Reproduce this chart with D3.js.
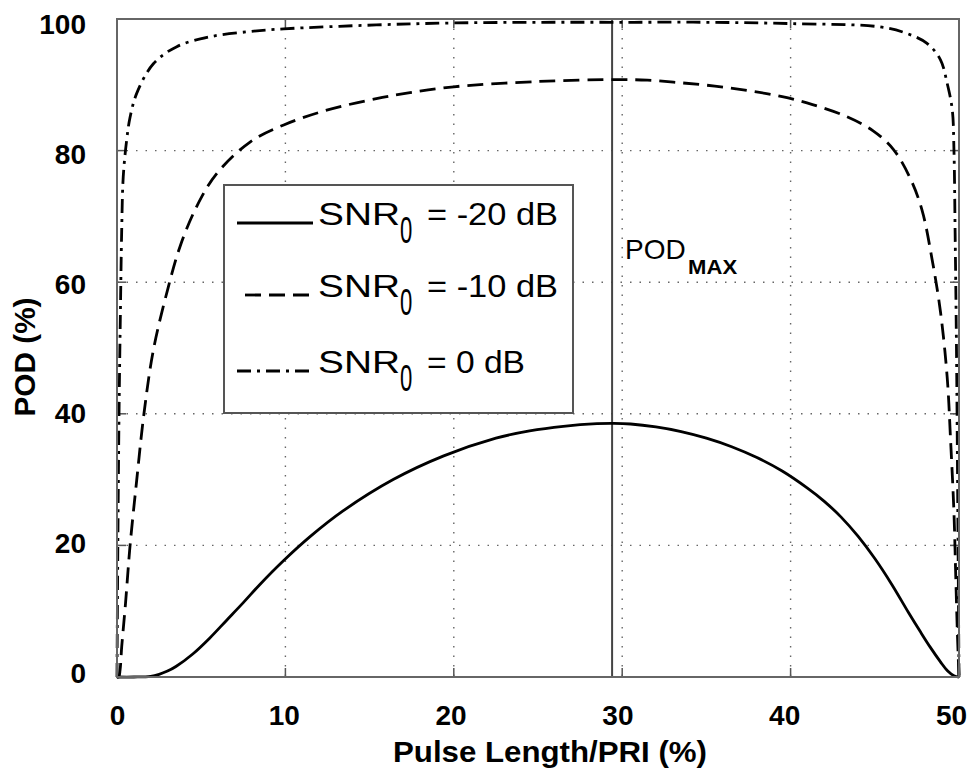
<!DOCTYPE html>
<html>
<head>
<meta charset="utf-8">
<script src="https://cdn.jsdelivr.net/npm/d3@7"></script>
<style>
  body { margin: 0; background: white; }
  text { font-family: "Liberation Sans", Arial, sans-serif; fill: black; }
  .gridline { stroke: #666; stroke-width: 1.4; stroke-dasharray: 1.5,8; }
  .tick-in { stroke: #555; stroke-width: 1.5; }
  .kreska { fill: none; stroke: black; stroke-width: 2.8; }
</style>
</head>
<body>
<div id="wykres_pod"></div>
<script>
// tick values
var xTicks = [0, 10, 20, 30, 40, 50];
var yTicks = [0, 20, 40, 60, 80, 100];

// legend labels (SNR0 = ...)
var seriesDb = ["-20 dB", "-10 dB", "0 dB"];

// SNR0 = -20 dB
var snr20_x = [0, 1, 2, 2.5, 3, 3.5, 4.5, 5.5, 6.5, 7.5, 8.5, 9.9, 11.5, 13.4, 16.4, 19.4, 22.5, 24.5, 26.5, 28.5, 29.5, 30.5, 32, 33.5, 35, 36.5, 38, 39.5, 41, 42, 43, 44, 45, 46, 47, 47.7, 48.3, 48.9, 49.3, 49.7, 50];
var snr20_y = [0, 0, 0.1, 0.4, 0.9, 1.6, 3.5, 5.9, 8.6, 11.3, 14.1, 17.7, 21.4, 25.2, 30.0, 33.6, 36.3, 37.4, 38.1, 38.5, 38.55, 38.45, 38.0, 37.3, 36.3, 35.0, 33.35, 31.3, 28.7, 26.7, 24.3, 21.4, 18.0, 14.1, 9.8, 6.9, 4.5, 2.3, 1.0, 0.2, 0];

// SNR0 = -10 dB
var snr10_x = [0, 0.1, 0.18, 0.28, 0.5, 0.77, 1.17, 1.6, 2.16, 3.05, 3.74, 4.73, 5.92, 7.9, 9.9, 12.4, 15.4, 17.4, 20, 25, 29.5, 31.5, 33.5, 35.5, 37.5, 39.5, 41.3, 43.3, 44.9, 46.1, 47.1, 47.8, 48.4, 48.9, 49.3, 49.5, 49.7, 49.8, 49.9, 50];
var snr10_y = [0, 0, 1, 4.6, 11, 19.8, 29.9, 40, 49.7, 59.3, 65.4, 71.5, 76.5, 81.3, 83.9, 86.1, 87.9, 88.8, 89.7, 90.5, 90.8, 90.7, 90.3, 89.8, 89.1, 88.2, 87.0, 85.2, 83.0, 80.2, 75.8, 71.0, 63.5, 55.5, 45.5, 36, 25, 16, 7, 0];

// SNR0 = 0 dB
var snr0_x = [0, 0.05, 0.12, 0.2, 0.28, 0.37, 0.57, 0.77, 1.17, 2.16, 3.55, 5.52, 7.9, 9.9, 15.4, 20, 25, 30, 35, 40, 45.3, 46.9, 48.1, 48.9, 49.3, 49.6, 49.7, 49.77, 49.85, 49.93, 50];
var snr0_y = [0, 20, 40, 55, 68, 76, 81.5, 85, 88.7, 93.2, 95.8, 97.3, 98.1, 98.5, 99.1, 99.4, 99.5, 99.5, 99.5, 99.3, 98.8, 97.8, 96.3, 93.8, 90.2, 86.2, 80.1, 67.5, 50, 25, 0];

var podMaxX = 29.4;

var margin = { top: 19, left: 117, right: 16, bottom: 97 };
var width = 975 - margin.left - margin.right;
var height = 774 - margin.top - margin.bottom;

var svg_pod = d3.select("#wykres_pod")
  .append("svg")
  .attr("width", 975)
  .attr("height", 774)
  .style("background", "white")
  .append("g")
  .attr("transform", "translate(" + margin.left + "," + margin.top + ")");

var xscale = d3.scaleLinear().domain([0, 50]).range([0, width]);
var yscale = d3.scaleLinear().domain([0, 100]).range([height, 0]);

// labels sit on a slightly tighter spacing than the ticks in the original
var xlab = d3.scaleLinear().domain([0, 50]).range([0.5, 834.5]);
var ylab = d3.scaleLinear().domain([0, 100]).range([654, 5]);

// grid
svg_pod.append("g")
  .selectAll("line")
  .data(xTicks.slice(1, -1))
  .enter().append("line")
  .attr("class", "gridline")
  .attr("x1", d => xscale(d))
  .attr("x2", d => xscale(d))
  .attr("y1", 0)
  .attr("y2", height);

svg_pod.append("g")
  .selectAll("line")
  .data(yTicks.slice(1, -1))
  .enter().append("line")
  .attr("class", "gridline")
  .attr("x1", 0)
  .attr("x2", width)
  .attr("y1", d => yscale(d))
  .attr("y2", d => yscale(d));

// inner ticks on all four sides
var tickLen = 9;
var ticks = svg_pod.append("g");
xTicks.forEach(function (d) {
  ticks.append("line").attr("class", "tick-in")
    .attr("x1", xscale(d)).attr("x2", xscale(d))
    .attr("y1", height).attr("y2", height - tickLen);
  ticks.append("line").attr("class", "tick-in")
    .attr("x1", xscale(d)).attr("x2", xscale(d))
    .attr("y1", 0).attr("y2", tickLen);
});
yTicks.forEach(function (d) {
  ticks.append("line").attr("class", "tick-in")
    .attr("x1", 0).attr("x2", tickLen)
    .attr("y1", yscale(d)).attr("y2", yscale(d));
  ticks.append("line").attr("class", "tick-in")
    .attr("x1", width).attr("x2", width - tickLen)
    .attr("y1", yscale(d)).attr("y2", yscale(d));
});

// POD max marker
svg_pod.append("line")
  .attr("x1", xscale(podMaxX))
  .attr("x2", xscale(podMaxX))
  .attr("y1", 0)
  .attr("y2", height)
  .attr("stroke", "#444")
  .attr("stroke-width", 2);

var podLabel = svg_pod.append("g")
  .attr("transform", "translate(" + (xscale(podMaxX) + 13) + "," + (yscale(63.5)) + ")");
podLabel.append("text")
  .attr("x", 0).attr("y", 0)
  .style("font-size", "28px")
  .text("POD");
podLabel.append("text")
  .attr("x", 63).attr("y", 15)
  .attr("textLength", 49)
  .attr("lengthAdjust", "spacingAndGlyphs")
  .style("font-size", "20px")
  .style("font-weight", "bold")
  .text("MAX");

// curves
var series = [
  { x: snr20_x, y: snr20_y, dash: null, w: 2.8 },
  { x: snr10_x, y: snr10_y, dash: "16,8", w: 3.2 },
  { x: snr0_x, y: snr0_y, dash: "14,6,3,6", w: 3.2 }
];

var line = d3.line()
  .x(d => xscale(d[0]))
  .y(d => yscale(d[1]))
  .curve(d3.curveCatmullRom.alpha(0.5));

series.forEach(function (s) {
  svg_pod.append("path")
    .datum(d3.zip(s.x, s.y))
    .attr("class", "kreska")
    .attr("stroke-width", s.w)
    .attr("stroke-dasharray", s.dash)
    .attr("d", line);
});

// frame
svg_pod.append("rect")
  .attr("x", 0).attr("y", 0)
  .attr("width", width).attr("height", height)
  .attr("fill", "none")
  .attr("stroke", "#666")
  .attr("stroke-width", 2);

// axis labels
svg_pod.append("g")
  .selectAll("text")
  .data(xTicks)
  .enter().append("text")
  .attr("x", d => xlab(d))
  .attr("y", 706)
  .attr("text-anchor", "middle")
  .style("font-size", "28px")
  .style("font-weight", "bold")
  .text(d => d);

svg_pod.append("g")
  .selectAll("text")
  .data(yTicks)
  .enter().append("text")
  .attr("x", -31)
  .attr("y", d => ylab(d) + 10)
  .attr("text-anchor", "end")
  .style("font-size", "28px")
  .style("font-weight", "bold")
  .text(d => d);

svg_pod.append("text")
  .attr("x", 433)
  .attr("y", 743)
  .attr("text-anchor", "middle")
  .attr("textLength", 314)
  .attr("lengthAdjust", "spacingAndGlyphs")
  .style("font-size", "29px")
  .style("font-weight", "bold")
  .text("Pulse Length/PRI (%)");

svg_pod.append("text")
  .attr("transform", "translate(-82," + 338 + ")rotate(-90)")
  .attr("text-anchor", "middle")
  .attr("textLength", 119)
  .attr("lengthAdjust", "spacingAndGlyphs")
  .style("font-size", "29px")
  .style("font-weight", "bold")
  .text("POD (%)");

// legend
var legend = svg_pod.append("g")
  .attr("transform", "translate(" + (224 - margin.left) + "," + (185 - margin.top) + ")");

legend.append("rect")
  .attr("x", 0).attr("y", 0)
  .attr("width", 349).attr("height", 228)
  .attr("fill", "white")
  .attr("stroke", "#555")
  .attr("stroke-width", 2);

var rowBase = [40, 112, 188];
var sampleStart = [13, 21, 13];

seriesDb.forEach(function (name, i) {
  var b = rowBase[i];
  legend.append("line")
    .attr("class", "kreska")
    .attr("stroke-width", series[i].w)
    .attr("stroke-dasharray", series[i].dash)
    .attr("x1", sampleStart[i]).attr("x2", 89)
    .attr("y1", b - 2).attr("y2", b - 2);

  legend.append("text")
    .attr("x", 94).attr("y", b)
    .attr("textLength", 82)
    .attr("lengthAdjust", "spacingAndGlyphs")
    .style("font-size", "32px")
    .text("SNR");

  legend.append("text")
    .attr("transform", "translate(176," + (b + 18) + ")scale(0.85,1.4)")
    .style("font-size", "26px")
    .text("0");

  legend.append("text")
    .attr("x", 203).attr("y", b)
    .attr("textLength", name === "0 dB" ? 98 : 131)
    .attr("lengthAdjust", "spacingAndGlyphs")
    .style("font-size", "32px")
    .text("= " + name);
});
</script>
</body>
</html>
